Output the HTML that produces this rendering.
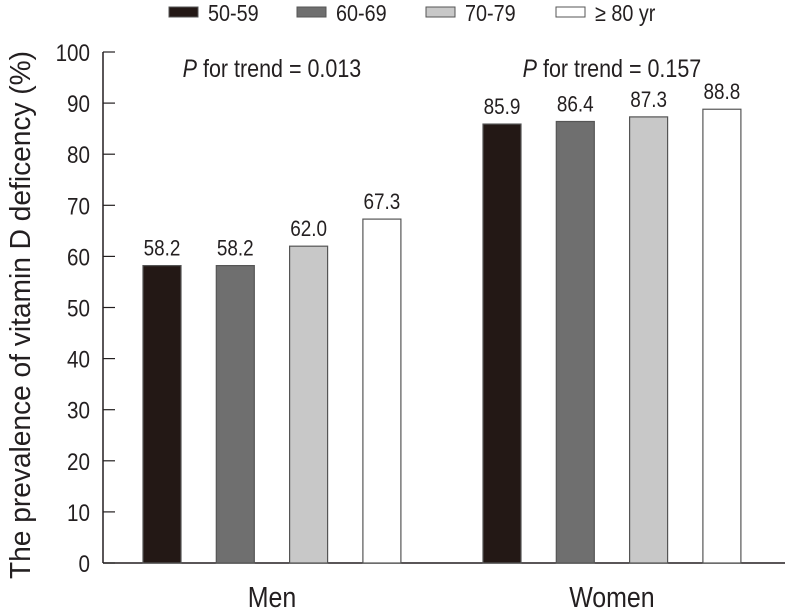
<!DOCTYPE html>
<html><head><meta charset="utf-8"><style>
body{margin:0;background:#fff}
svg text{font-family:"Liberation Sans",sans-serif;fill:#231f20}
</style></head><body>
<svg id="c" width="785" height="609" viewBox="0 0 785 609"></svg>
<script>
const groups = ["Men","Women"];
const series = ["50-59","60-69","70-79","\u2265 80 yr"];
const menValues = [58.2,58.2,62.0,67.3];
const womenValues = [85.9,86.4,87.3,88.8];
const trendLabels = ["0.013","0.157"];
const yTicks = [0,10,20,30,40,50,60,70,80,90,100];
const fills = ["#231815","#6f6f6f","#c8c8c8","#ffffff"];
const NS="http://www.w3.org/2000/svg", svg=document.getElementById('c');
function el(t,a,txt){const e=document.createElementNS(NS,t);for(const k in a)e.setAttribute(k,a[k]);if(txt!=null)e.textContent=txt;svg.appendChild(e);return e;}
function tx(xp,yp,anchor,size,txt,rot,sx){
  const tr='translate('+xp+','+yp+')'+(rot?' rotate(-90)':'')+' scale('+(sx||0.86)+',1)';
  return el('text',{transform:tr,'text-anchor':anchor,'font-size':size},txt);
}
const y0=563,yTop=52;
const y=v=>y0-(v/100)*(y0-yTop);
const groupStart=[143,483], step=73.3, bw=38;
const x=(g,i)=>groupStart[g]+i*step;
let a=el('line',{x1:103,y1:yTop,x2:103,y2:y0,stroke:'#231f20','stroke-width':1.5});

a=el('line',{x1:103,y1:y0,x2:785,y2:y0,stroke:'#231f20','stroke-width':1.5});

yTicks.forEach(t=>{
  const tk=el('line',{x1:103,y1:y(t),x2:115,y2:y(t),stroke:'#231f20','stroke-width':1.2});
  
  
  const lb=tx(90,y(t)+9,'end',24,t);
  
  
});
const tt=tx(30,315,'middle',29,'The prevalence of vitamin D deficency (%)',true,0.97);


[menValues,womenValues].forEach((vals,g)=>{
  vals.forEach((v,i)=>{
    const r=el('rect',{x:x(g,i),y:y(v),width:bw,height:y0-y(v),fill:fills[i],stroke:'#555','stroke-width':1.2});
    
    
    const l=tx(x(g,i)+bw/2,y(v)-10,'middle',22,v.toFixed(1));
    
    
  });
  const cx=(x(g,0)+x(g,3)+bw)/2;
  const gl=tx(cx,607,'middle',29,groups[g]);
  
  
  const pt=tx(cx,77,'middle',25,null);
  
  
  const ts=document.createElementNS(NS,'tspan');ts.setAttribute('font-style','italic');ts.textContent='P';pt.appendChild(ts);
  pt.appendChild(document.createTextNode(' for trend = '+trendLabels[g]));
});
const lx=[169,297,426,556];
series.forEach((s,i)=>{
  const b=el('rect',{x:lx[i],y:7,width:29,height:10,fill:fills[i],stroke:'#555','stroke-width':1});
  
  
  const t=tx(lx[i]+39,21,'start',23,s);
  
  
});
</script>
</body></html>
